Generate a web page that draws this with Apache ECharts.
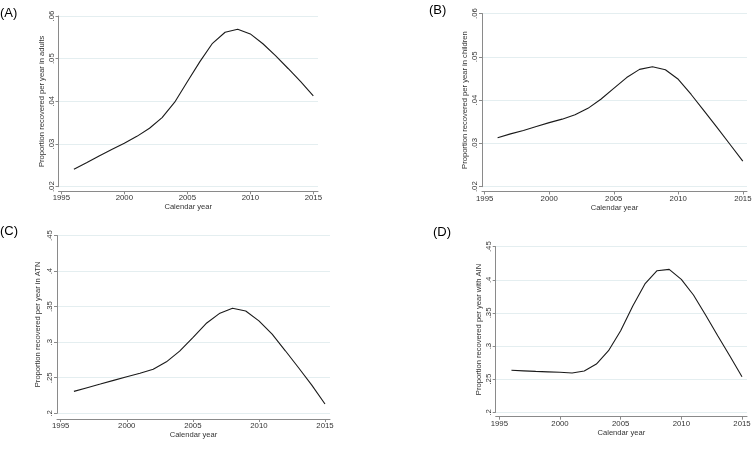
<!DOCTYPE html>
<html>
<head>
<meta charset="utf-8">
<script src="https://cdn.jsdelivr.net/npm/echarts@6/dist/echarts.min.js"></script>
<style>
html,body{margin:0;padding:0;background:#fff;}
#chart{width:756px;height:449px;}
</style>
</head>
<body>
<div id="chart"></div>
<script>
const years = [1996,1997,1998,1999,2000,2001,2002,2003,2004,2005,2006,2007,2008,2009,2010,2011,2012,2013,2014,2015];
const adults   = [.0241,.0256,.0272,.0287,.0302,.0318,.0337,.0362,.0398,.0446,.0493,.0536,.0562,.0569,.0558,.0535,.0507,.0477,.0446,.0413];
const children = [.0313,.0322,.0330,.0339,.0348,.0356,.0366,.0381,.0402,.0427,.0452,.0471,.0477,.0470,.0448,.0413,.0375,.0337,.0298,.0259];
const atn      = [.2308,.2360,.2411,.2463,.2514,.2563,.2620,.2724,.2874,.3065,.3262,.3402,.3477,.3439,.3299,.3112,.2879,.2640,.2397,.2131];
const ain      = [.2634,.2626,.2618,.2611,.2604,.2594,.2624,.2729,.2930,.3232,.3605,.3937,.4138,.4158,.4007,.3771,.3469,.3157,.2850,.2538];
const xTickLabels = [1995,2000,2005,2010,2015];
const yRangeSmall = {min:.02, max:.06, interval:.01};
const yRangeLarge = {min:.2, max:.45, interval:.05};
const panelLabels = ['(A)','(B)','(C)','(D)'];
const yTitles = ['Proportion recovered per year in adults','Proportion recovered per year in children','Proportion recovered per year in ATN','Proportion recovered per year with AIN'];
const xTitle = 'Calendar year';

// layout (pixels)
const panels = [
  {yAx:58.5, x0:61.3, x1:313.3, xr:318, top:16,   bot:186.7, axis:191.3, nameGap:11, yGap:13, data:adults,   yr:yRangeSmall, lab:[0,15]},
  {yAx:482,  x0:484.7,x1:742.8, xr:747, top:13.5, bot:186.7, axis:191.5, nameGap:12, yGap:13, data:children, yr:yRangeSmall, lab:[429,12]},
  {yAx:57,   x0:60.7, x1:325,   xr:330, top:235.5,bot:413.3, axis:419,   nameGap:12, yGap:15, data:atn,      yr:yRangeLarge, lab:[0,233]},
  {yAx:495.7,x0:499.3,x1:742,   xr:747, top:246.7,bot:412.3, axis:416.7, nameGap:10, yGap:13, data:ain,      yr:yRangeLarge, lab:[433,234]}
];
const FONT = 'Liberation Sans';
const fmtY = v => String(+(+v).toFixed(2)).replace(/^0/, '');

const grid = [], xAxis = [], yAxis = [], series = [], graphic = [];
panels.forEach((p, i) => {
  const ppy = (p.x1 - p.x0) / 20;
  grid.push({left:p.yAx, top:p.top, width:p.xr - p.yAx, height:p.bot - p.top, containLabel:false});
  xAxis.push({
    type:'value', gridIndex:i,
    min: 1995 - (p.x0 - p.yAx) / ppy,
    max: 2015 + (p.xr - p.x1) / ppy,
    offset: p.axis - p.bot,
    name: xTitle, nameLocation:'middle', nameGap:p.nameGap,
    nameTextStyle:{fontFamily:FONT, fontSize:7.6, color:'#333'},
    axisLine:{show:true, onZero:false, lineStyle:{color:'#8a8a8a', width:1}},
    axisTick:{show:true, length:3, customValues:xTickLabels, lineStyle:{color:'#8a8a8a'}},
    axisLabel:{customValues:xTickLabels, fontFamily:FONT, fontSize:7.8, color:'#333', margin:3, formatter: v => String(Math.round(v))},
    splitLine:{show:false}
  });
  yAxis.push({
    type:'value', gridIndex:i,
    min:p.yr.min, max:p.yr.max, interval:p.yr.interval,
    name: yTitles[i], nameLocation:'middle', nameGap:p.yGap, nameRotate:90,
    nameTextStyle:{fontFamily:FONT, fontSize:7.6, color:'#333'},
    axisLine:{show:true, lineStyle:{color:'#8a8a8a', width:1}},
    axisTick:{show:true, length:3, lineStyle:{color:'#8a8a8a'}},
    axisLabel:{rotate:90, fontFamily:FONT, fontSize:7.8, color:'#333', margin:3, formatter: fmtY},
    splitLine:{show:true, lineStyle:{color:'#e4eef0', width:1}}
  });
  series.push({
    type:'line', xAxisIndex:i, yAxisIndex:i,
    data: years.map((y, k) => [y, p.data[k]]),
    showSymbol:false, smooth:false, silent:true,
    lineStyle:{color:'#1a1a1a', width:1.1}
  });
  graphic.push({type:'text', left:p.lab[0], top:p.lab[1] - 8,
    style:{text:panelLabels[i], font:'13px "Liberation Sans"', fill:'#000'}});
});

const chart = echarts.init(document.getElementById('chart'), null, {renderer:'canvas'});
chart.setOption({animation:false, backgroundColor:'#fff', grid, xAxis, yAxis, series, graphic});
</script>
</body>
</html>
